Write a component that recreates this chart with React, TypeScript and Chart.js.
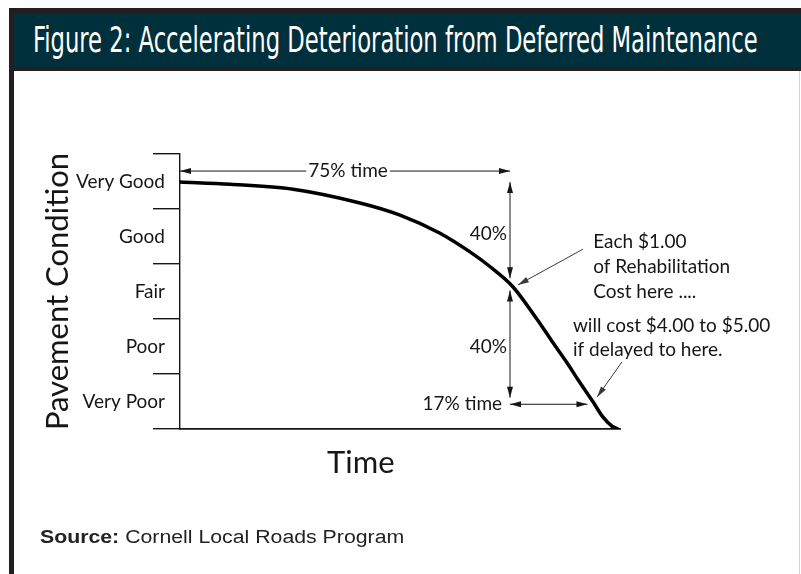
import React, { useEffect, useRef } from "react";
import { Chart, registerables } from "chart.js";
Chart.register(...registerables);

// ---------- data ----------
const conditionLabels = ["Very Good", "Good", "Fair", "Poor", "Very Poor"];
// time in % of pavement life, condition on a 0 (bottom) .. 5 (top) scale
const timePercent = [0, 11.4, 25.7, 40.9, 50, 59.1, 65.9, 70.5, 75.5, 81.1, 84.5, 88, 90.5, 93.9, 96.1, 98.2, 99.5];
const conditionLevel = [4.49, 4.45, 4.36, 4.11, 3.89, 3.56, 3.22, 2.95, 2.6, 2.0, 1.6, 1.2, 0.89, 0.49, 0.22, 0.05, 0];

const titleText = "Figure 2: Accelerating Deterioration from Deferred Maintenance";
const sourceLabel = "Source:";
const sourceText = "Cornell Local Roads Program";
const xTitle = "Time";
const yTitle = "Pavement Condition";

// annotation texts
const span75Label = "75% time";
const span17Label = "17% time";
const dropLabel = "40%";
const calloutA = ["Each $1.00", "of Rehabilitation", "Cost here ...."];
const calloutB = ["will cost $4.00 to $5.00", "if delayed to here."];

const TEXT_FONT = "19px Lato";
const INK = "#161616";

function arrowHead(ctx: CanvasRenderingContext2D, fx: number, fy: number, tx: number, ty: number, len: number, half: number, color: string) {
  const a = Math.atan2(ty - fy, tx - fx);
  const c = Math.cos(a), s = Math.sin(a);
  ctx.beginPath();
  ctx.moveTo(tx, ty);
  ctx.lineTo(tx - len * c + half * s, ty - len * s - half * c);
  ctx.lineTo(tx - len * c - half * s, ty - len * s + half * c);
  ctx.closePath();
  ctx.fillStyle = color;
  ctx.fill();
}

function line(ctx: CanvasRenderingContext2D, x1: number, y1: number, x2: number, y2: number, color: string, w: number) {
  ctx.beginPath();
  ctx.moveTo(x1, y1);
  ctx.lineTo(x2, y2);
  ctx.strokeStyle = color;
  ctx.lineWidth = w;
  ctx.stroke();
}

const annotationPlugin = {
  id: "annotations",
  afterDatasetsDraw(chart: any) {
    const ctx: CanvasRenderingContext2D = chart.ctx;
    const xs = chart.scales.x;
    const ys = chart.scales.y;
    const px = (v: number) => xs.getPixelForValue(v);
    const py = (v: number) => ys.getPixelForValue(v);
    ctx.save();
    ctx.font = TEXT_FONT;
    ctx.fillStyle = INK;
    ctx.textBaseline = "middle";

    // 75% time span
    {
      const y = py(4.69);
      const x1 = px(0), x2 = px(75);
      const cx = px(38.2);
      const w = ctx.measureText(span75Label).width;
      line(ctx, x1, y, cx - w / 2 - 2, y, INK, 1);
      line(ctx, cx + w / 2 + 2, y, x2, y, INK, 1);
      arrowHead(ctx, x1 + 20, y, x1, y, 11, 3, INK);
      arrowHead(ctx, x2 - 20, y, x2, y, 11, 3, INK);
      ctx.textAlign = "center";
      ctx.fillStyle = INK;
      ctx.fillText(span75Label, cx, y);
    }
    // vertical 40% drops
    {
      const x = px(75);
      const top = py(4.49), mid1 = py(2.74), mid2 = py(2.52), bot = py(0.57);
      line(ctx, x, top, x, mid1, INK, 1);
      arrowHead(ctx, x, top + 20, x, top, 11, 3, INK);
      arrowHead(ctx, x, mid1 - 20, x, mid1, 11, 3, INK);
      line(ctx, x, mid2, x, bot, INK, 1);
      arrowHead(ctx, x, mid2 + 20, x, mid2, 11, 3, INK);
      arrowHead(ctx, x, bot - 20, x, bot, 11, 3, INK);
      ctx.textAlign = "right";
      ctx.fillStyle = INK;
      ctx.fillText(dropLabel, px(74.3), py(3.55));
      ctx.fillText(dropLabel, px(74.3), py(1.49));
    }
    // 17% time span
    {
      const y = py(0.45);
      const x1 = px(75), x2 = px(92.6);
      line(ctx, x1, y, x2, y, INK, 1);
      arrowHead(ctx, x1 + 20, y, x1, y, 11, 3, INK);
      arrowHead(ctx, x2 - 20, y, x2, y, 11, 3, INK);
      ctx.textAlign = "right";
      ctx.fillStyle = INK;
      ctx.fillText(span17Label, px(73.2), y);
    }
    // callout pointers
    {
      const g = "#3a3a3a";
      const ax1 = px(91.6), ay1 = py(3.27), ax2 = px(76.8), ay2 = py(2.62);
      line(ctx, ax1, ay1, ax2, ay2, g, 1);
      arrowHead(ctx, ax1, ay1, ax2, ay2, 11, 3, g);
      const bx1 = px(100.45), by1 = py(1.22), bx2 = px(94.8), by2 = py(0.58);
      line(ctx, bx1, by1, bx2, by2, g, 1);
      arrowHead(ctx, bx1, by1, bx2, by2, 11, 3, g);
    }
    // callout texts
    ctx.textAlign = "left";
    ctx.fillStyle = INK;
    const aY = [3.4, 2.95, 2.49];
    calloutA.forEach((t, i) => ctx.fillText(t, px(93.9), py(aY[i])));
    const bY = [1.87, 1.44];
    calloutB.forEach((t, i) => ctx.fillText(t, px(89.3), py(bY[i])));

    // x title
    ctx.font = "31px Lato";
    ctx.textAlign = "center";
    ctx.fillText(xTitle, px(41.1), py(-0.62));
    ctx.restore();
  },
};

export default function App() {
  const canvasRef = useRef<HTMLCanvasElement | null>(null);
  const titleRef = useRef<HTMLSpanElement | null>(null);
  const sourceRef = useRef<HTMLSpanElement | null>(null);

  useEffect(() => {
    const fit = (el: HTMLSpanElement | null, target: number) => {
      if (!el) return;
      const w = el.offsetWidth;
      if (w > 0) el.style.transform = `scaleX(${target / w})`;
    };
    fit(titleRef.current, 725);
    fit(sourceRef.current, 364);

    const canvas = canvasRef.current;
    if (!canvas) return;
    const chart = new Chart(canvas, {
      type: "line",
      data: {
        datasets: [
          {
            data: timePercent.map((t, i) => ({ x: t, y: conditionLevel[i] })),
            borderColor: "#000",
            borderWidth: 3.5,
            borderCapStyle: "round",
            cubicInterpolationMode: "monotone",
            pointRadius: 0,
            fill: false,
            xAxisID: "x",
            yAxisID: "y",
          },
        ],
      },
      options: {
        responsive: false,
        animation: false,
        events: [],
        layout: { padding: { left: 15, right: 181, top: 154, bottom: 145 } },
        plugins: { legend: { display: false }, tooltip: { enabled: false }, title: { display: false } },
        scales: {
          x: {
            type: "linear",
            min: 0,
            max: 100,
            ticks: { display: false },
            grid: { display: false },
            border: { display: true, color: INK, width: 1.8 },
            afterFit: (s: any) => {
              s.height = 0;
            },
          },
          y: {
            type: "linear",
            min: 0,
            max: 5,
            display: false,
          },
          yc: {
            type: "category",
            position: "left",
            labels: conditionLabels,
            offset: true,
            ticks: { autoSkip: false, padding: -12, color: INK, font: { family: "Lato", size: 19 } },
            grid: { display: true, offset: true, drawOnChartArea: false, drawTicks: true, tickLength: 27, color: INK, lineWidth: 1.4 },
            border: { display: true, color: INK, width: 1.4 },
            title: {
              display: true,
              text: yTitle,
              color: INK,
              font: { family: "Lato", size: 31 },
              padding: { top: 24, bottom: 0 },
            },
            afterFit: (s: any) => {
              s.width = 165;
            },
          },
        },
      } as any,
      plugins: [annotationPlugin],
    });
    return () => chart.destroy();
  }, []);

  return (
    <div style={{ position: "absolute", left: 0, top: 0, width: 801, height: 574, background: "#fff", overflow: "hidden" }}>
      <canvas ref={canvasRef} width={801} height={574} style={{ position: "absolute", left: 0, top: 0, width: 801, height: 574 }} />
      {/* header */}
      <div
        style={{
          position: "absolute",
          left: 9,
          top: 8,
          width: 792,
          height: 63,
          boxSizing: "border-box",
          background: "#00303b",
          borderTop: "5px solid #231f20",
          borderLeft: "5px solid #231f20",
          borderBottom: "4px solid #231f20",
        }}
      />
      <span
        ref={titleRef}
        style={{
          position: "absolute",
          left: 33,
          top: 23,
          whiteSpace: "nowrap",
          color: "#fff",
          fontFamily: '"Liberation Sans Narrow", "DejaVu Sans Condensed", "Liberation Sans", sans-serif',
          fontSize: 35,
          lineHeight: 1,
          transformOrigin: "0 0",
        }}
      >
        {titleText}
      </span>
      {/* frame lines */}
      <div style={{ position: "absolute", left: 9, top: 71, width: 5, height: 503, background: "#231f20" }} />
      <div style={{ position: "absolute", left: 799, top: 71, width: 1, height: 503, background: "#d4d4d4" }} />
      {/* source */}
      <span
        ref={sourceRef}
        style={{
          position: "absolute",
          left: 40,
          top: 528,
          whiteSpace: "nowrap",
          color: "#222",
          fontFamily: '"Liberation Sans", Arial, sans-serif',
          fontSize: 18,
          lineHeight: 1,
          transformOrigin: "0 0",
        }}
      >
        <b>{sourceLabel}</b> {sourceText}
      </span>
    </div>
  );
}
